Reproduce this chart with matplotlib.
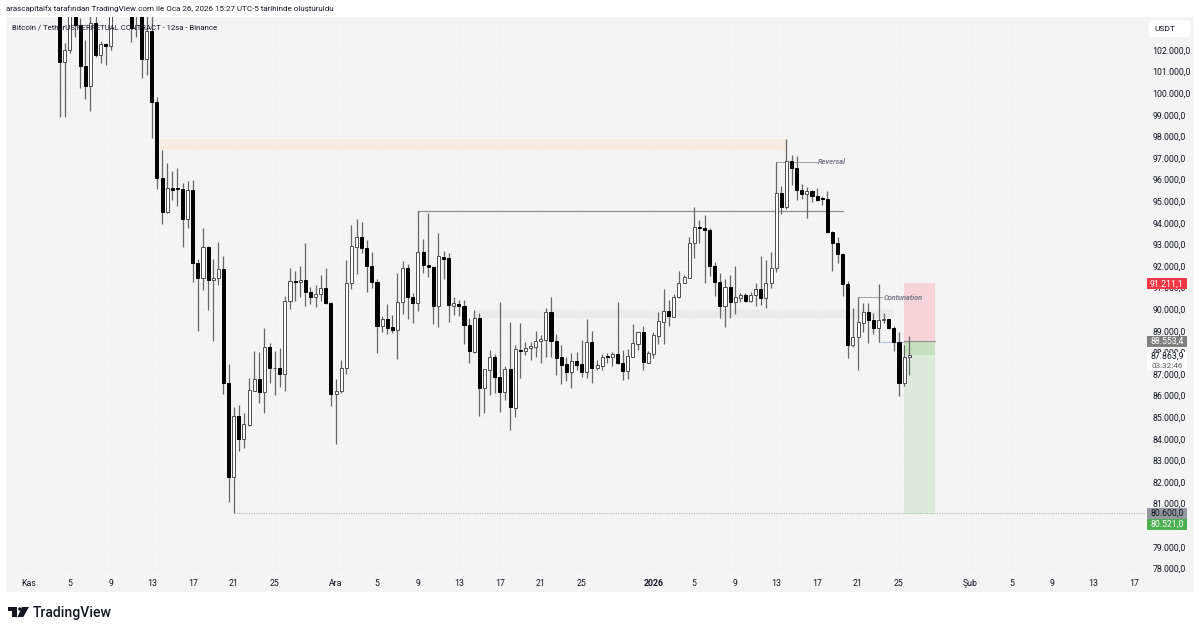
import matplotlib
matplotlib.use("Agg")
import matplotlib.pyplot as plt
from matplotlib.patches import Rectangle, Polygon, Circle, FancyBboxPatch

W, H = 1200, 632
BG = '#f4f4f4'
FONT = 'Roboto'

# prices in thousands of USDT, 12h bars, first bar is index 6 (Nov 4 00:00)
first_bar = 6
opens = [104.5, 101.44, 102.0, 104.0, 103.16, 101.26, 100.33, 103.25, 101.77, 102.28,
         102.19, 104.0, 104.6, 105.1, 104.8, 103.7, 104.4, 101.58, 102.88, 99.59,
         96.07, 94.5, 95.6, 95.56, 95.55, 94.19, 95.52, 92.12, 91.43, 92.9,
         91.35, 91.46, 91.86, 86.57, 82.22, 85.05, 84.0, 84.65, 86.23, 86.77,
         86.18, 88.23, 87.26, 87.29, 87.0, 90.39, 91.3, 91.25, 91.35, 90.8,
         90.58, 90.72, 90.98, 90.3, 86.07, 86.2, 87.26, 91.23, 92.9, 93.36,
         92.85, 92.0, 91.27, 89.24, 89.56, 89.16, 89.05, 90.32, 91.89, 90.58,
         90.3, 92.63, 92.03, 91.97, 90.15, 92.43, 92.35, 90.15, 90.25, 90.17,
         89.29, 88.04, 89.57, 86.34, 87.17, 87.81, 86.88, 86.16, 87.24, 85.43,
         88.13, 88.05, 88.19, 88.27, 88.52, 88.58, 89.86, 88.55, 87.78, 87.45,
         87.11, 87.59, 87.45, 87.11, 88.47, 87.27, 87.39, 87.81, 87.79, 87.91,
         87.5, 87.16, 87.81, 88.39, 88.93, 87.53, 87.93, 88.78, 89.43, 89.92,
         89.66, 90.55, 91.23, 91.46, 93.05, 93.79, 93.76, 93.67, 92.0, 91.28,
         90.17, 91.02, 90.35, 90.54, 90.66, 90.4, 90.68, 90.92, 90.54, 91.23,
         91.93, 95.37, 94.72, 96.88, 96.53, 95.52, 95.34, 95.48, 95.24, 95.11,
         95.1, 93.59, 93.08, 92.56, 91.15, 88.35, 88.7, 89.38, 89.89, 89.5,
         89.12, 89.5, 89.53, 89.12, 88.5, 86.57, 87.78]
highs = [105.0, 102.32, 104.5, 104.3, 103.5, 102.46, 104.0, 104.0, 102.42, 102.32,
         104.3, 105.0, 105.4, 105.5, 105.3, 104.6, 105.0, 103.6, 103.6, 99.82,
         97.37, 96.77, 96.4, 96.54, 95.83, 95.95, 95.98, 92.31, 93.77, 92.93,
         92.31, 93.12, 92.46, 87.45, 85.49, 85.56, 85.21, 86.8, 88.08, 88.03,
         89.11, 88.42, 88.08, 88.19, 90.61, 91.89, 91.78, 92.0, 93.05, 91.04,
         91.12, 91.58, 91.89, 90.35, 86.77, 87.65, 92.28, 93.9, 94.16, 94.02,
         93.2, 92.66, 91.38, 89.68, 90.22, 89.73, 91.69, 92.23, 92.09, 90.76,
         94.54, 93.25, 94.44, 92.0, 93.54, 92.71, 92.6, 90.55, 90.43, 90.43,
         89.58, 89.97, 89.81, 87.22, 88.1, 87.93, 90.32, 87.39, 89.43, 88.35,
         89.35, 88.5, 88.5, 89.01, 88.81, 90.04, 90.55, 88.86, 88.35, 87.81,
         87.99, 88.04, 88.58, 89.53, 89.01, 87.65, 87.93, 87.99, 88.04, 90.35,
         88.1, 88.16, 89.32, 88.96, 89.2, 88.08, 88.96, 89.89, 90.94, 90.43,
         90.71, 91.77, 91.59, 93.33, 94.75, 94.13, 94.36, 93.75, 92.2, 91.66,
         91.4, 91.59, 92.0, 90.77, 90.74, 90.78, 91.23, 92.47, 92.28, 92.64,
         96.83, 95.72, 97.88, 97.14, 97.1, 95.8, 95.65, 95.52, 95.6, 95.24,
         95.48, 93.6, 93.33, 92.58, 91.32, 90.04, 90.55, 90.28, 90.28, 89.84,
         91.17, 89.84, 89.53, 89.23, 88.93, 88.32, 88.78]
lows = [98.9, 98.9, 101.86, 102.6, 100.24, 99.73, 99.18, 101.68, 101.4, 101.31,
        102.0, 103.7, 103.8, 103.7, 102.37, 102.6, 100.7, 100.84, 97.93, 95.56,
        93.94, 94.44, 95.06, 94.78, 92.9, 93.74, 91.27, 89.0, 90.9, 89.96,
        88.54, 91.12, 86.07, 81.09, 80.58, 83.45, 83.56, 84.6, 86.2, 85.64,
        85.21, 86.6, 86.03, 86.41, 86.23, 89.99, 90.39, 90.58, 90.15, 90.24,
        90.08, 90.39, 90.24, 85.53, 83.76, 86.14, 87.0, 90.93, 91.63, 92.62,
        90.81, 90.96, 87.99, 88.96, 88.85, 88.88, 87.68, 89.78, 89.53, 89.34,
        89.93, 91.69, 91.5, 89.3, 89.19, 91.4, 89.42, 89.74, 89.69, 88.39,
        87.5, 87.99, 85.06, 85.21, 86.03, 86.14, 85.25, 85.8, 84.41, 85.03,
        86.8, 87.88, 87.65, 87.81, 87.53, 87.81, 87.81, 86.96, 86.53, 86.68,
        86.34, 87.19, 86.88, 86.8, 86.6, 87.19, 87.19, 87.53, 87.39, 87.47,
        86.73, 86.76, 87.78, 88.1, 87.19, 87.5, 87.73, 88.4, 88.39, 89.23,
        89.63, 90.5, 91.2, 91.43, 92.36, 93.05, 91.2, 91.54, 90.61, 89.58,
        89.19, 89.61, 89.78, 90.35, 90.35, 90.35, 90.15, 90.2, 90.07, 90.97,
        91.7, 94.4, 94.63, 95.75, 95.06, 95.09, 94.21, 94.98, 95.01, 94.81,
        93.55, 91.79, 92.16, 90.61, 87.76, 88.24, 87.19, 88.96, 88.45, 88.84,
        88.5, 89.35, 89.09, 88.07, 86.0, 86.46, 86.96]
closes = [101.44, 102.0, 104.0, 103.16, 101.26, 100.33, 103.25, 101.77, 102.28, 102.19,
          104.0, 104.6, 105.1, 104.8, 103.02, 104.4, 101.58, 102.88, 99.59, 96.07,
          94.5, 95.63, 95.52, 95.55, 94.19, 95.52, 92.12, 91.43, 92.9, 91.35,
          91.46, 91.86, 86.57, 82.22, 85.05, 84.0, 84.67, 86.26, 86.77, 86.18,
          88.23, 87.26, 87.28, 87.0, 90.39, 91.32, 91.25, 91.34, 90.8, 90.58,
          90.72, 90.98, 90.27, 86.07, 86.2, 87.29, 91.23, 92.92, 93.36, 92.85,
          92.0, 91.27, 89.24, 89.56, 89.14, 89.05, 90.32, 91.89, 90.58, 90.3,
          92.63, 92.03, 91.94, 90.15, 92.45, 92.34, 90.19, 90.28, 90.17, 89.27,
          88.05, 89.58, 86.34, 87.22, 87.81, 86.88, 86.16, 87.24, 85.45, 88.15,
          88.07, 88.19, 88.3, 88.55, 88.61, 89.86, 88.55, 87.76, 87.42, 87.11,
          87.59, 87.42, 87.11, 88.47, 87.3, 87.42, 87.81, 87.8, 87.91, 87.5,
          87.16, 87.84, 88.42, 88.93, 87.54, 87.96, 88.81, 89.46, 89.92, 89.69,
          90.55, 91.23, 91.48, 93.05, 93.79, 93.76, 93.67, 92.0, 91.28, 90.17,
          91.02, 90.35, 90.55, 90.66, 90.4, 90.68, 90.92, 90.54, 91.23, 91.93,
          95.37, 94.72, 96.88, 96.53, 95.52, 95.34, 95.45, 95.24, 95.06, 95.09,
          93.59, 93.08, 92.56, 91.15, 88.35, 88.7, 89.4, 89.86, 89.5, 89.12,
          89.5, 89.52, 89.12, 88.5, 86.57, 87.78, 87.86]

# 80.000 sits fully behind the two tags at the bottom of the axis, so it has no label
price_ticks = [78, 79, 81, 82, 83, 84, 85, 86, 87, 88, 89, 90, 91, 92, 93,
               94, 95, 96, 97, 98, 99, 100, 101, 102]
date_ticks = [0, 8, 16, 24, 32, 40, 48, 60, 68, 76, 84, 92, 100, 108, 122, 130,
              138, 146, 154, 162, 170, 184, 192, 200, 208, 216]
date_labels = ['Kas', '5', '9', '13', '17', '21', '25', 'Ara', '5', '9', '13', '17',
               '21', '25', '2026', '5', '9', '13', '17', '21', '25', 'Şub', '5', '9',
               '13', '17']


def rect_px(fig, x0, y0, x1, y1, color, z=0):
    r = Rectangle((x0 / W, 1 - y1 / H), (x1 - x0) / W, (y1 - y0) / H,
                  transform=fig.transFigure, facecolor=color, edgecolor='none', zorder=z)
    fig.add_artist(r)


def text_px(fig, x, y, s, **kw):
    kw.setdefault('family', FONT)
    kw.setdefault('va', 'center')
    kw.setdefault('color', '#131722')
    fig.text(x / W, 1 - y / H, s, zorder=6, **kw)


fig = plt.figure(figsize=(W / 100, H / 100), dpi=100, facecolor='white')
rect_px(fig, 6, 17, 1194, 592, BG, z=-1)

ax = fig.add_axes([6 / W, 1 - 572 / H, 1140 / W, 555 / H])
ax.set_facecolor('none')
ax.set_xlim(-4.494, 218.27)
ax.set_ylim(77.833, 103.528)
for s in ax.spines.values():
    s.set_visible(False)
ax.grid(True, color='#f1f1f1', lw=0.6)
ax.set_axisbelow(True)

ax.yaxis.tick_right()
ax.set_yticks(price_ticks)
ax.set_yticklabels([f'{p}.000,0' for p in price_ticks], family=FONT, fontsize=6.3, color='#131722')
ax.tick_params(axis='y', length=0, pad=4.5)
ax.set_xticks(date_ticks)
ax.set_xticklabels(date_labels, family=FONT, fontsize=6.3, color='#131722')
ax.tick_params(axis='x', length=0, pad=5)
ax.get_xticklabels()[14].set_fontweight('bold')

# zones and drawings under the candles
ax.fill_between([25.6, 148], 97.37, 97.88, color='#f6ecdf', lw=0, zorder=1)
ax.fill_between([87, 169], 89.6, 89.95, color='#ebebeb', lw=0, zorder=1)
ax.fill_between([171, 177], 88.55, 91.21, color='#f7d4da', lw=0, zorder=1)
ax.fill_between([171, 177], 80.52, 88.55, color='#dcebdc', lw=0, zorder=1)
ax.fill_between([171, 177], 87.86, 88.55, color='#c6e0c0', lw=0, zorder=1)
ax.plot([76, 159], [94.56, 94.56], color='#8f8f8f', lw=0.9, zorder=2)
ax.plot([146, 154.0], [96.83, 96.83], color='#a0a0a0', lw=0.7, zorder=2)
ax.plot([162, 166.6], [90.55, 90.55], color='#a0a0a0', lw=0.7, zorder=2)
ax.plot([166, 171], [88.5, 88.5], color='#b8c2e0', lw=0.8, zorder=2)
ax.plot([171, 177], [88.55, 88.55], color='#8f8f8f', lw=0.8, zorder=2)
ax.plot([40, 218.27], [80.56, 80.56], color='#a8a8a8', lw=0.7, ls=(0, (1, 1.5)), zorder=2)

# candles
xs = [first_bar + i for i in range(len(opens))]
ax.vlines(xs, lows, highs, color='#666666', lw=0.9, zorder=3)
for x, o, c in zip(xs, opens, closes):
    up = c >= o
    ax.bar(x, max(abs(c - o), 0.04), bottom=min(o, c), width=0.6,
           facecolor='white' if up else 'black', edgecolor='#4d4d4d' if up else 'black',
           lw=0.7, zorder=4)

ax.text(154.2, 96.83, 'Reversal', family=FONT, fontsize=5.3, style='italic', weight='bold',
        color='#7a7d88', va='center', zorder=5)
ax.text(167.1, 90.55, 'Contunation', family=FONT, fontsize=5.3, style='italic', weight='bold',
        color='#7a7d88', va='center', zorder=5)

# header and legend
text_px(fig, 6, 9, 'arascapitalfx tarafından TradingView.com ile Oca 26, 2026 15:27 UTC-5 tarihinde oluşturuldu',
        fontsize=5.76)
text_px(fig, 12, 27, 'Bitcoin / TetherUS PERPETUAL CONTRACT - 12sa - Binance', fontsize=5.6)

# currency box top right
fig.add_artist(FancyBboxPatch((1151 / W, 1 - 35 / H), 37 / W, 12 / H,
                              boxstyle='round,pad=0.002', transform=fig.transFigure,
                              facecolor='white', edgecolor='none', mutation_aspect=1.9))
text_px(fig, 1154.5, 29, 'USDT', fontsize=6.0)

# price tags on the axis
rect_px(fig, 1147, 278, 1187, 289, '#f23645', z=5)
text_px(fig, 1167, 284, '91.211,1', fontsize=6.3, ha='center', color='white')
rect_px(fig, 1147, 336, 1187, 347, '#808080', z=5)
text_px(fig, 1167, 341, '88.553,4', fontsize=6.3, ha='center', color='white')
rect_px(fig, 1147, 352, 1187, 371, 'white', z=5)
text_px(fig, 1167, 356, '87.863,9', fontsize=6.3, ha='center')
text_px(fig, 1167, 365.5, '03:32:46', fontsize=5.9, ha='center', color='#555555')
rect_px(fig, 1147, 508, 1187, 518.5, '#9598a1', z=5)
text_px(fig, 1167, 513, '80.600,0', fontsize=6.3, ha='center')
rect_px(fig, 1147, 518.5, 1187, 530, '#4caf50', z=5)
text_px(fig, 1167, 524, '80.521,0', fontsize=6.3, ha='center', color='white')

# tradingview logo
rect_px(fig, 7.5, 607, 16.5, 610.5, '#131722', z=5)
rect_px(fig, 12, 607, 16.5, 617, '#131722', z=5)
fig.add_artist(Circle((19.8 / 100, (H - 609) / 100), 1.7 / 100,
                      transform=fig.dpi_scale_trans, color='#131722', lw=0))
fig.add_artist(Polygon([(22 / W, 1 - 607 / H), (29 / W, 1 - 607 / H),
                        (23.3 / W, 1 - 617 / H), (17.5 / W, 1 - 617 / H)],
                       transform=fig.transFigure, color='#131722', lw=0))
text_px(fig, 32.5, 612.5, 'TradingView', fontsize=10.1, weight='medium')

fig.savefig('out.png', dpi=100, facecolor='white')
